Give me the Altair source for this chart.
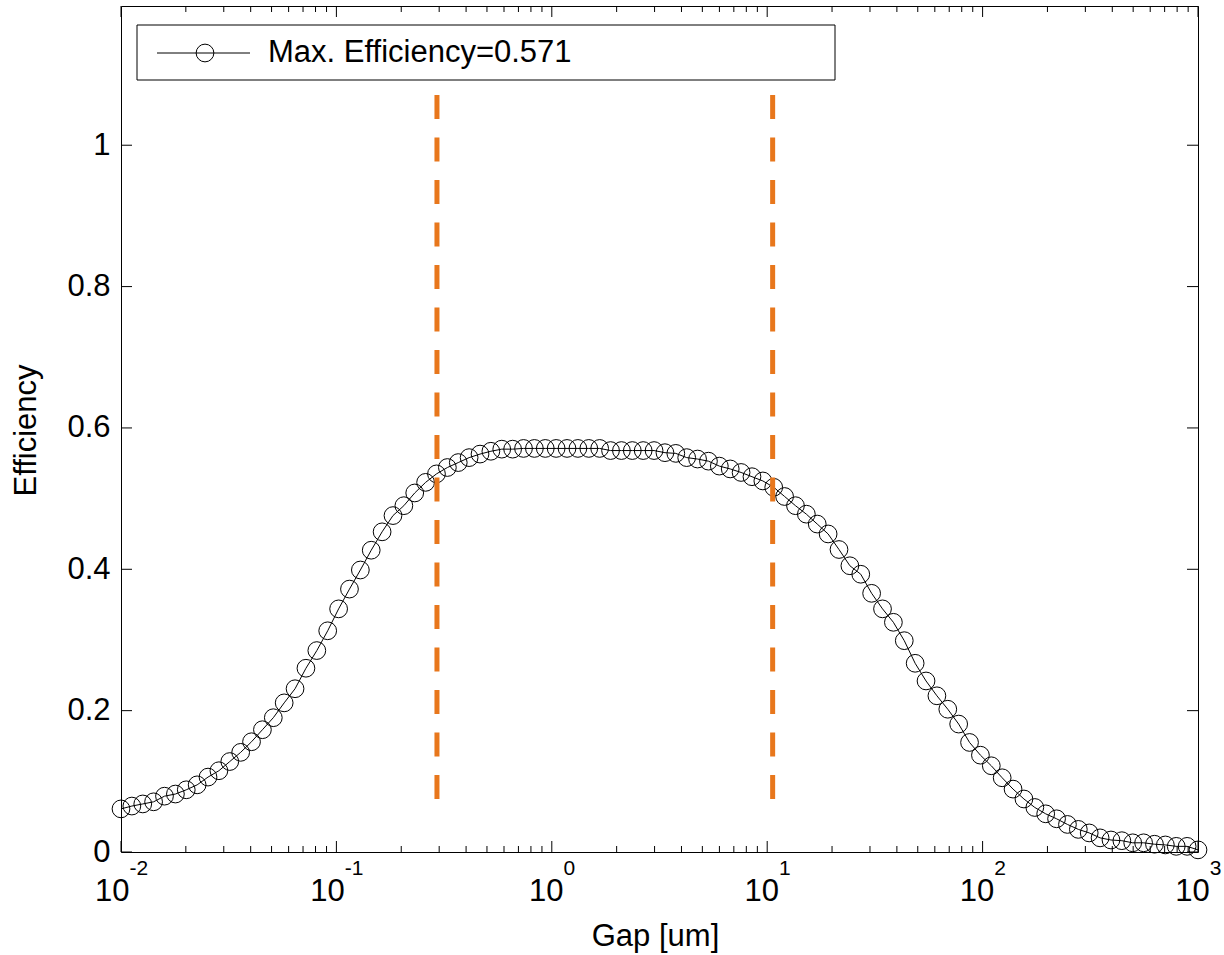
import altair as alt
import pandas as pd

# ---- data ----
gap_um = [
    0.01, 0.01123, 0.01262, 0.01417, 0.01592, 0.01789, 0.02009, 0.02257, 0.02535, 0.02848,
    0.03199, 0.03594, 0.04037, 0.04535, 0.05094, 0.05722, 0.06428, 0.07221, 0.08111, 0.09112,
    0.1024, 0.1150, 0.1292, 0.1451, 0.1630, 0.1831, 0.2057, 0.2310, 0.2595, 0.2915,
    0.3275, 0.3679, 0.4132, 0.4642, 0.5214, 0.5857, 0.6579, 0.7391, 0.8302, 0.9326,
    1.0476, 1.1768, 1.3219, 1.4850, 1.6681, 1.8738, 2.1049, 2.3645, 2.6561, 2.9836,
    3.3516, 3.7649, 4.2292, 4.7508, 5.3367, 5.9948, 6.7342, 7.5646, 8.4975, 9.5455,
    10.723, 12.045, 13.530, 15.199, 17.074, 19.179, 21.544, 24.201, 27.186, 30.539,
    34.305, 38.535, 43.288, 48.626, 54.623, 61.359, 68.926, 77.426, 86.975, 97.701,
    109.75, 123.28, 138.49, 155.57, 174.75, 196.30, 220.51, 247.71, 278.26, 312.58,
    351.12, 394.42, 443.06, 497.70, 559.08, 628.03, 705.48, 792.48, 890.22, 1000.0,
]
efficiency = [
    0.061, 0.065, 0.068, 0.071, 0.079, 0.082, 0.088, 0.095, 0.106, 0.115,
    0.128, 0.141, 0.156, 0.173, 0.190, 0.211, 0.231, 0.260, 0.285, 0.313,
    0.344, 0.372, 0.399, 0.427, 0.453, 0.476, 0.490, 0.508, 0.523, 0.535,
    0.544, 0.551, 0.558, 0.563, 0.567, 0.570, 0.570, 0.571, 0.571, 0.571,
    0.571, 0.571, 0.571, 0.571, 0.571, 0.568, 0.568, 0.568, 0.568, 0.568,
    0.565, 0.564, 0.558, 0.556, 0.553, 0.546, 0.542, 0.537, 0.531, 0.525,
    0.516, 0.503, 0.490, 0.478, 0.464, 0.450, 0.428, 0.405, 0.393, 0.366,
    0.344, 0.325, 0.299, 0.267, 0.242, 0.221, 0.202, 0.181, 0.155, 0.137,
    0.122, 0.105, 0.089, 0.075, 0.063, 0.054, 0.047, 0.039, 0.032, 0.027,
    0.020, 0.017, 0.016, 0.013, 0.013, 0.011, 0.010, 0.008, 0.008, 0.003,
]
dash_gap = [0.293, 10.6]
dash_top = 1.071
dash_bottom = 0.074

y_tick_values = [0, 0.2, 0.4, 0.6, 0.8, 1.0]
x_major = [0.01, 0.1, 1, 10, 100, 1000]
x_exponent = ["-2", "-1", "0", "1", "2", "3"]
decades = [0.01, 0.1, 1, 10, 100]
mantissas = [2, 3, 4, 5, 6, 7, 8, 9]
x_minor = [m * d for d in decades for m in mantissas]
legend_label = "Max. Efficiency=0.571"

FONT = "Liberation Sans"
W, H = 1077, 846
ORANGE = "#E8771C"

xs = alt.Scale(type="log", domain=[0.01, 1000], nice=False)
ys = alt.Scale(domain=[0, 1.197], nice=False, zero=False)

X_AXIS = alt.Axis(
    title="Gap [um]", labels=False, ticks=False, domain=False, grid=False,
    titleFont=FONT, titleFontSize=31, titleFontWeight="normal", titleColor="black",
    titleX=534, titleY=93, titleBaseline="alphabetic", titleAlign="center")
Y_AXIS = alt.Axis(
    title="Efficiency", values=y_tick_values, format="~g", ticks=False, domain=False,
    grid=False, labelFont=FONT, labelFontSize=31, labelColor="black", labelPadding=11,
    titleFont=FONT, titleFontSize=31, titleFontWeight="normal", titleColor="black",
    titleX=-85.5, titleY=424, titleAngle=270, titleBaseline="alphabetic",
    titleAlign="center")


def X(field):
    return alt.X(field, scale=xs, axis=X_AXIS, title="Gap [um]")


def Y(field):
    return alt.Y(field, scale=ys, axis=Y_AXIS, title="Efficiency")


curve = pd.DataFrame({"gap": gap_um, "eff": efficiency})
dash_df = pd.DataFrame({"gap": dash_gap, "eff": [dash_top] * 2, "eff2": [dash_bottom] * 2})
major_df = pd.DataFrame({"gap": x_major, "exp": x_exponent, "base": ["10"] * 6,
                         "neg": [e.startswith("-") for e in x_exponent]})
minor_df = pd.DataFrame({"gap": x_minor})
ytick_df = pd.DataFrame({"eff": y_tick_values})
legend_df = pd.DataFrame({"label": [legend_label]})

line = alt.Chart(curve).mark_line(color="black", strokeWidth=1).encode(
    x=X("gap:Q"), y=Y("eff:Q"))

points = alt.Chart(curve).mark_point(
    shape="circle", filled=False, size=314, color="black", strokeWidth=1, opacity=1
).encode(x=X("gap:Q"), y=Y("eff:Q"))

dashes = alt.Chart(dash_df).mark_rule(
    color=ORANGE, strokeWidth=5, strokeDash=[24, 18.5]
).encode(x=X("gap:Q"), y=Y("eff:Q"), y2="eff2:Q")


def xticks(df, y0, y1):
    return alt.Chart(df).mark_rule(color="black", strokeWidth=1).encode(
        x=X("gap:Q"), y=alt.value(y0), y2=alt.value(y1))


def yticks(x0, x1):
    return alt.Chart(ytick_df).mark_rule(color="black", strokeWidth=1).encode(
        y=Y("eff:Q"), x=alt.value(x0), x2=alt.value(x1))


tick_layers = [
    xticks(major_df, H, H - 11), xticks(minor_df, H, H - 6),
    xticks(major_df, 0, 11), xticks(minor_df, 0, 6),
    yticks(0, 11), yticks(W, W - 11),
]


def xlabels(neg, dx):
    base = alt.Chart(major_df).transform_filter(
        alt.datum.neg if neg else ~alt.datum.neg)
    ten = base.mark_text(font=FONT, fontSize=31, align="right", baseline="alphabetic",
                         dx=dx, color="black").encode(
        x=X("gap:Q"), y=alt.value(895), text="base:N")
    ex = base.mark_text(font=FONT, fontSize=21, align="left", baseline="alphabetic",
                        dx=dx, color="black").encode(
        x=X("gap:Q"), y=alt.value(869), text="exp:N")
    return [ten, ex]


label_layers = xlabels(True, 8.4) + xlabels(False, 11.7)

leg_box = alt.Chart(legend_df).mark_rect(fill="white", stroke="black", strokeWidth=1).encode(
    x=alt.value(16), x2=alt.value(714), y=alt.value(19), y2=alt.value(74))
leg_line = alt.Chart(legend_df).mark_rule(color="black", strokeWidth=1).encode(
    x=alt.value(36), x2=alt.value(129), y=alt.value(47))
leg_pt = alt.Chart(legend_df).mark_point(shape="circle", filled=False, size=314,
                                         color="black", strokeWidth=1, opacity=1).encode(
    x=alt.value(84), y=alt.value(47))
leg_text = alt.Chart(legend_df).mark_text(font=FONT, fontSize=31, align="left",
                                          baseline="middle", color="black").encode(
    x=alt.value(147), y=alt.value(47), text="label:N")

chart = alt.layer(
    line, points, dashes, *tick_layers, *label_layers, leg_box, leg_line, leg_pt, leg_text
).properties(
    width=W, height=H,
    autosize=alt.AutoSizeParams(type="none"),
    padding={"left": 121, "top": 6, "right": 26, "bottom": 103},
    background="white",
).configure_view(stroke="black", strokeWidth=1)

chart.save("out.html", embed_options={"renderer": "svg", "actions": False})
